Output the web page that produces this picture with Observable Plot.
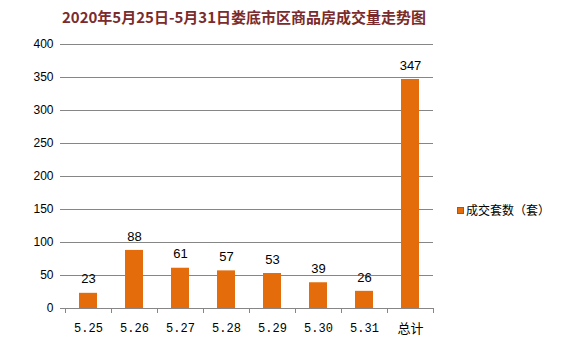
<!DOCTYPE html>
<html><head><meta charset="utf-8">
<script src="https://cdn.jsdelivr.net/npm/d3@7"></script>
<script src="https://cdn.jsdelivr.net/npm/@observablehq/plot@0.6"></script>
<style>
body{margin:0;background:#fff;}
#wrap{position:relative;width:574px;height:360px;overflow:hidden;}
#title{position:absolute;left:0;width:488px;top:6px;text-align:center;font:bold 15px "Noto Sans CJK SC",sans-serif;color:#7b2b2b;line-height:22px;white-space:nowrap;}
#legend{position:absolute;left:457px;top:201px;font:12px "Noto Sans CJK SC",sans-serif;color:#000;display:flex;align-items:center;line-height:18px;}
#legend span.sw{display:inline-block;width:5px;height:5px;background:#e46c0a;border:1px solid #b0550a;margin-right:2px;}
</style></head>
<body><div id="wrap"><div id="title"></div><div id="legend"><span class="sw"></span><span id="ltext"></span></div></div>
<script>
const title = "2020年5月25日-5月31日娄底市区商品房成交量走势图";
const seriesName = "成交套数（套）";
const categories = ["5.25","5.26","5.27","5.28","5.29","5.30","5.31","总计"];
const values = [23,88,61,57,53,39,26,347];
const yTicks = [0,50,100,150,200,250,300,350,400];

document.getElementById("title").textContent = title;
document.getElementById("ltext").textContent = seriesName;

const data = categories.map((c,i)=>({cat:c, v:values[i]}));
const isCJK = s => /[\u4e00-\u9fff]/.test(s);
const half = 23;
const chart = Plot.plot({
  width:574, height:360,
  marginLeft:65, marginRight:141, marginTop:44, marginBottom:52,
  style:{background:"transparent", fontFamily:"Liberation Sans, Arial, sans-serif", fontSize:"12px", color:"#000"},
  x:{domain:categories, paddingInner:0.6, paddingOuter:0.3, axis:null},
  y:{domain:[0,400], axis:null},
  marks:[
    Plot.ruleY(yTicks.filter(t=>t>0), {stroke:"#868686", strokeWidth:1}),
    Plot.ruleY(yTicks, {stroke:"#868686", insetLeft:-5, insetRight:0}),
    Plot.barY(data, {x:"cat", y:"v", fill:"#e46c0a"}),
    Plot.ruleX([0], {x:undefined, y1:0, y2:400, stroke:"#868686", frameAnchor:"left"}),
    Plot.ruleY([0], {stroke:"#868686"}),
    Plot.ruleX(categories, {x:d=>d, y1:0, y2:0, insetBottom:-5, dx:-half, stroke:"#868686"}),
    Plot.ruleX([categories[categories.length-1]], {x:d=>d, y1:0, y2:0, insetBottom:-5, dx:half, stroke:"#868686"}),
    Plot.text(yTicks, {y:d=>d, text:d=>String(d), frameAnchor:"left", textAnchor:"end", dx:-12, fontSize:12, fill:"#000"}),
    Plot.text(categories.filter(c=>!isCJK(c)), {x:d=>d, y:0, text:d=>d, dy:20, fontSize:12, fontFamily:"Liberation Mono, monospace", fill:"#000"}),
    Plot.text(categories.filter(isCJK), {x:d=>d, y:0, text:d=>d, dy:20, fontSize:13, fontFamily:"Noto Sans CJK SC, sans-serif", fill:"#000"}),
    Plot.text(data, {x:"cat", y:"v", text:d=>String(d.v), dy:-14, fontSize:13, fill:"#000"})
  ]
});
document.getElementById("wrap").appendChild(chart);
chart.style.position="absolute"; chart.style.left="0"; chart.style.top="0";
</script>
</body></html>
